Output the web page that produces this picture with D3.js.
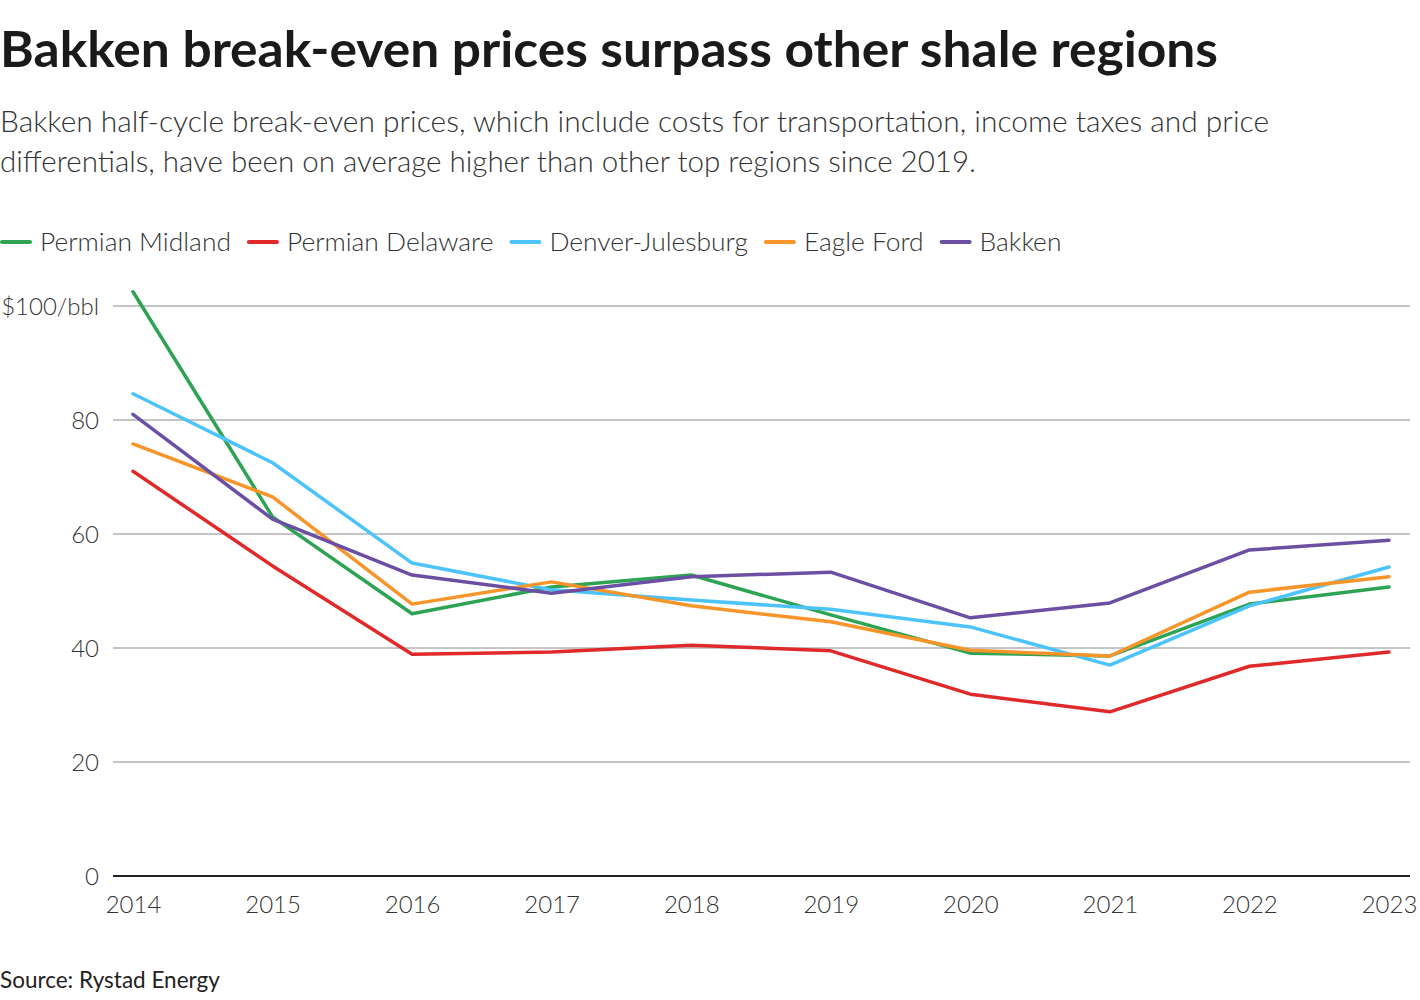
<!DOCTYPE html>
<html><head><meta charset="utf-8">
<script src="https://cdn.jsdelivr.net/npm/d3@7"></script>
<style>body{margin:0;background:#fff}svg{display:block}</style>
</head><body>
<svg id="c" width="1420" height="1000"></svg>
<script>
const years = [2014,2015,2016,2017,2018,2019,2020,2021,2022,2023];
const seriesNames = ["Permian Midland","Permian Delaware","Denver-Julesburg","Eagle Ford","Bakken"];
const permianMidland   = [102.5,63.0,46.0,50.7,52.8,45.8,39.1,38.6,47.7,50.7];
const permianDelaware  = [71.0,54.4,38.9,39.3,40.5,39.5,31.9,28.8,36.8,39.3];
const denverJulesburg  = [84.6,72.5,54.9,50.2,48.4,46.8,43.7,37.0,47.4,54.2];
const eagleFord        = [75.8,66.5,47.7,51.6,47.4,44.6,39.6,38.6,49.8,52.5];
const bakken           = [81.0,62.6,52.8,49.6,52.5,53.3,45.3,47.9,57.2,58.9];
const yTicks = [0,20,40,60,80,100];
const colors = ["#2ea353","#e0292a","#4cc3fb","#f7952b","#6b4fa3"];

const allValues = [permianMidland,permianDelaware,denverJulesburg,eagleFord,bakken];
const font = "'Source Sans Pro', Lato, 'Noto Sans', sans-serif";
const svg = d3.select("#c");

svg.append("text").attr("x",0).attr("y",67).attr("font-family",font).attr("font-weight",700)
  .attr("font-size",49).attr("fill","#1a1a1a").attr("textLength",1218).attr("lengthAdjust","spacingAndGlyphs")
  .text("Bakken break-even prices surpass other shale regions");
const sub = ["Bakken half-cycle break-even prices, which include costs for transportation, income taxes and price",
             "differentials, have been on average higher than other top regions since 2019."];
const subW = [1269, 976];
sub.forEach((t,i)=>svg.append("text").attr("x",0).attr("y",132+i*40).attr("font-family",font)
  .attr("font-weight",300).attr("font-size",29.5).attr("fill","#333")
  .attr("textLength",subW[i]).attr("lengthAdjust","spacingAndGlyphs").text(t));

// legend
let lx = 0;
seriesNames.forEach((n,i)=>{
  svg.append("line").attr("x1",lx+2).attr("x2",lx+30).attr("y1",242).attr("y2",242)
    .attr("stroke",colors[i]).attr("stroke-width",4).attr("stroke-linecap","round");
  const t = svg.append("text").attr("x",lx+40).attr("y",251).attr("font-family",font)
    .attr("font-weight",300).attr("font-size",26.4).attr("fill","#333").text(n);
  lx += 40 + t.node().getComputedTextLength() + 16;
});

const x = d3.scalePoint().domain(years).range([133,1389]);
const y = d3.scaleLinear().domain([0,100]).range([876,306]);

const g = svg.append("g");
const yAxis = d3.axisLeft(y).tickValues(yTicks).tickSize(0).tickFormat(d=>d===100?"$100/bbl":d);
const ya = g.append("g").attr("transform","translate(102,0)").call(yAxis);
ya.select(".domain").remove();
ya.selectAll("text").attr("font-family",font).attr("font-weight",300).attr("font-size",24)
  .attr("fill","#333").attr("dx",0).attr("dy","0.36em");
g.selectAll(".grid").data(yTicks.filter(d=>d>0)).join("line").attr("class","grid")
  .attr("x1",113).attr("x2",1410).attr("y1",d=>y(d)).attr("y2",d=>y(d))
  .attr("stroke","#c4c4c4").attr("stroke-width",2);

const xAxis = d3.axisBottom(x).tickSize(0).tickFormat(d3.format("d"));
const xa = g.append("g").attr("transform","translate(0,876)").call(xAxis);
xa.select(".domain").remove();
xa.selectAll("text").attr("font-family",font).attr("font-weight",300).attr("font-size",24)
  .attr("fill","#333").attr("dy","1.42em");

const line = d3.line().x((d,i)=>x(years[i])).y(d=>y(d));
g.selectAll(".series").data(allValues).join("path").attr("class","series")
  .attr("d",d=>line(d)).attr("fill","none").attr("stroke",(d,i)=>colors[i])
  .attr("stroke-width",3.5).attr("stroke-linejoin","round").attr("stroke-linecap","round");

g.append("line").attr("x1",113).attr("x2",1410).attr("y1",876).attr("y2",876)
  .attr("stroke","#222").attr("stroke-width",2);

svg.append("text").attr("x",0).attr("y",988).attr("font-family",font).attr("font-weight",400)
  .attr("font-size",22.5).attr("fill","#222").text("Source: Rystad Energy");
</script>
</body></html>
